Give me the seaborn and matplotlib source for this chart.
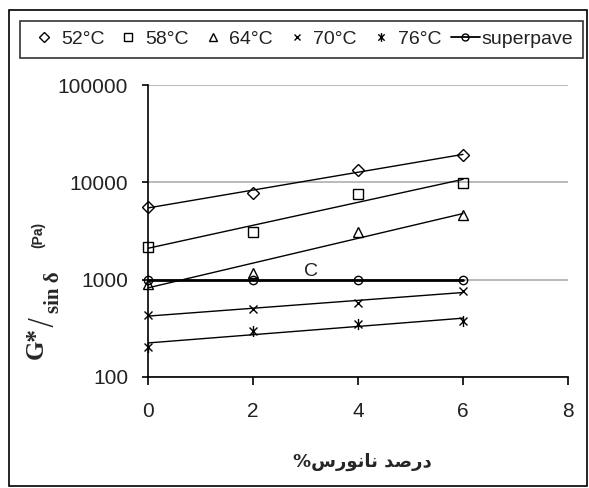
import numpy as np
import pandas as pd
import matplotlib
matplotlib.use('Agg')
import matplotlib.pyplot as plt
import seaborn as sns
from matplotlib.lines import Line2D
from matplotlib.path import Path
from matplotlib.patches import Rectangle
from matplotlib.ticker import NullLocator

# nanoclay percent and G*/sin(delta) in Pa
nano = [0, 2, 4, 6]
t52 = [5600, 7800, 13400, 19100]
t58 = [2180, 3100, 7600, 9900]
t64 = [910, 1180, 3100, 4650]
t70 = [435, 500, 580, 770]
t76 = [205, 300, 354, 372]
superpave = [1000, 1000, 1000, 1000]

labels = ['52°C', '58°C', '64°C', '70°C', '76°C', 'superpave']
yticks = [100, 1000, 10000, 100000]
xticks = [0, 2, 4, 6, 8]

sns.set_theme(style='ticks')
plt.rcParams['font.family'] = ['Liberation Sans', 'DejaVu Sans']

star = Path([(-1, -1), (1, 1), (-1, 1), (1, -1), (0, -1.4), (0, 1.4)],
            [Path.MOVETO, Path.LINETO] * 3)

W, H = 589, 488
fig = plt.figure(figsize=(W / 100, H / 100), dpi=100)
ax = fig.add_axes([148 / W, 1 - 377 / H, 420 / W, 292 / H])

series = [
    (t52, 'D', 6.5),
    (t58, 's', 6.5),
    (t64, '^', 7.5),
    (t70, 'x', 6),
    (t76, star, 8),
]

for vals, m, ms in series:
    # exponential trend line (straight on log axis)
    k, b = np.polyfit(nano, np.log10(vals), 1)
    xf = np.array([nano[0], nano[-1]])
    sns.lineplot(x=xf, y=10 ** (k * xf + b), color='black', lw=1, ax=ax, zorder=2)
    sns.lineplot(x=nano, y=vals, marker=m, ls='none', ms=ms, mfc='none', mec='black',
                 mew=1, color='black', ax=ax, clip_on=False, zorder=3)

sns.lineplot(x=nano, y=superpave, marker='o', ms=6, mfc='none', mec='black', mew=1,
             color='black', lw=2, ax=ax, clip_on=False, zorder=3)

ax.text(3.1, 1000, 'C', fontsize=14, ha='center', va='bottom', color='#222222')

ax.set_yscale('log')
ax.set_ylim(100, 100000)
ax.set_xlim(0, 8)
ax.set_yticks(yticks)
ax.set_yticklabels([str(v) for v in yticks])
ax.set_xticks(xticks)
ax.set_xticklabels([str(v) for v in xticks])
ax.yaxis.set_minor_locator(NullLocator())
ax.yaxis.grid(True, color='#b4b4b4', lw=1.3)
ax.set_axisbelow(True)
ax.set_xlabel('')
ax.set_ylabel('')
for s in ['top', 'right']:
    ax.spines[s].set_visible(False)
for s in ['left', 'bottom']:
    ax.spines[s].set_color('black')
    ax.spines[s].set_linewidth(1.2)
ax.tick_params(axis='y', direction='out', length=4.3, width=1.2, color='black',
               pad=10, labelsize=15, labelcolor='#222222')
ax.tick_params(axis='x', direction='out', length=5.8, width=1.2, color='black',
               pad=12, labelsize=15, labelcolor='#222222')

# y label pieces: G* / sin δ (Pa)
def px(x, y):
    return x / W, 1 - y / H

fig.text(*px(36, 343), 'G*', rotation=90, ha='center', va='center', fontsize=18,
         fontweight='bold', family=['Liberation Serif', 'DejaVu Serif'])
fig.text(*px(42, 322), '/', rotation=90, ha='center', va='center', fontsize=22,
         family=['DejaVu Sans'], fontweight='light')
fig.text(*px(54, 292), 'sin δ', rotation=90, ha='center', va='center', fontsize=15,
         fontweight='bold', family=['Liberation Serif', 'DejaVu Serif'])
fig.text(*px(38, 235), '(Pa)', rotation=90, ha='center', va='center', fontsize=10,
         fontweight='bold', family=['Liberation Sans', 'DejaVu Sans'])

# x label (Persian, visual order with presentation forms)
xlabel = '%' + '\uFEB1\uFEAD\uFEEE\uFEE7\uFE8E\uFEE7' + ' ' + '\uFEAA\uFEBB\uFEAD\uFEA9'
fig.text(*px(362, 462), xlabel, ha='center', va='center', fontsize=13,
         fontweight='bold', family=['DejaVu Sans'])

# legend
handles = [Line2D([], [], marker=m, ls='none', ms=ms * 0.8, mfc='none', mec='black',
                  mew=1, color='black') for _, m, ms in series]
handles.append(Line2D([], [], marker='o', ms=5, mfc='none', mec='black', mew=1,
                      color='black', lw=1.3))
leg = fig.legend(handles, labels, loc='lower left',
                 bbox_to_anchor=(20 / W, 1 - 58 / H, 563 / W, 40 / H), mode='expand',
                 ncol=6, fontsize=14, frameon=True, fancybox=False, edgecolor='black',
                 borderaxespad=0, handlelength=1.5, handletextpad=0.1,
                 columnspacing=0.5, borderpad=0.5)
leg.get_frame().set_linewidth(1.2)
for t in leg.get_texts():
    t.set_color('#222222')

fig.patches.append(Rectangle((9 / W, 1 - 486 / H), 578 / W, 476 / H,
                             transform=fig.transFigure, fill=False, ec='black', lw=1.2))

fig.savefig('out.png', dpi=100)
